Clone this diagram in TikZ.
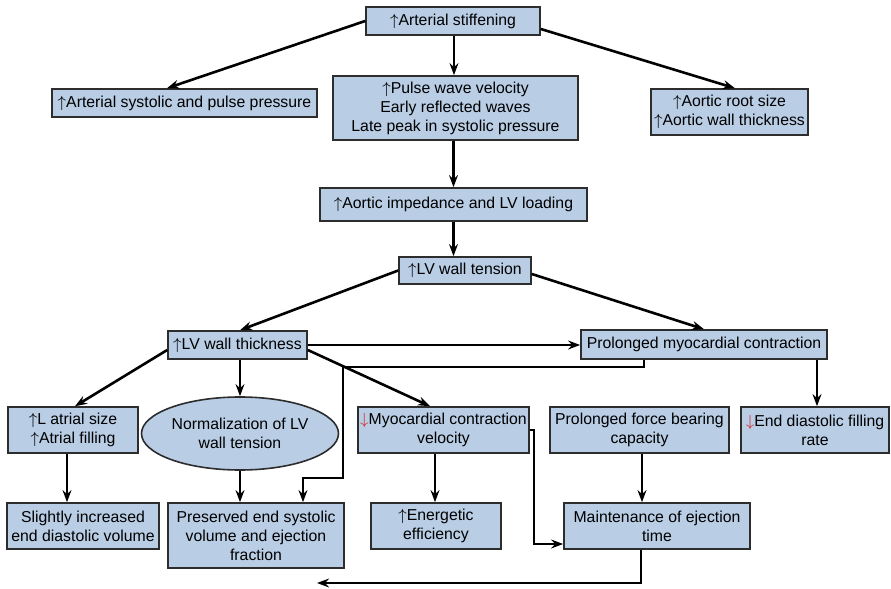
\documentclass[tikz,border=0pt]{standalone}
\usepackage{fontspec}
\setmainfont{Liberation Sans}
\usepackage{xcolor}
\usepackage{tikz}
\usetikzlibrary{arrows.meta, shapes.geometric}

\definecolor{boxblue}{RGB}{185,205,229}
\definecolor{boxline}{RGB}{45,45,45}
\definecolor{downred}{RGB}{215,45,45}

\tikzset{
  box/.style={draw=boxline, fill=boxblue, line width=0.8pt, inner sep=0pt,
    align=center, font=\fontsize{7.9}{9.5}\selectfont},
  oval/.style={box, ellipse},
  arr/.style={line width=1.3pt, -{Stealth[length=6pt,width=4.4pt]}}
}
\newcommand{\up}{\ensuremath{\uparrow}}
\newcommand{\dn}{{\color{downred}\ensuremath{\downarrow}}}

\begin{document}
\begin{tikzpicture}[x=0.5pt, y=-0.5pt]
                \useasboundingbox (0,0) rectangle (891,589);
                % Top row
                \node[box, minimum width=87pt, minimum height=14pt] (stiff) at (453,21) {\up Arterial stiffening};
                \node[box, minimum width=132.5pt, minimum height=14pt] (asp) at (184.5,103) {\up Arterial systolic and pulse pressure};
                \node[box, minimum width=122.5pt, minimum height=32pt] (pwv) at (455.5,108) {\up Pulse wave velocity\\Early reflected waves\\Late peak in systolic pressure};
                \node[box, minimum width=78.5pt, minimum height=23pt] (root) at (729.5,112) {\up Aortic root size\\\up Aortic wall thickness};
                % Middle chain
                \node[box, minimum width=133.5pt, minimum height=16.5pt] (imped) at (453.5,204.5) {\up Aortic impedance and LV loading};
                \node[box, minimum width=66pt, minimum height=13.5pt] (tens) at (465,270.5) {\up LV wall tension};
                \node[box, minimum width=69.5pt, minimum height=14pt] (thick) at (237.5,345) {\up LV wall thickness};
                \node[box, minimum width=123pt, minimum height=14.5pt] (contr) at (704,344.5) {Prolonged myocardial contraction};
                % Third row
                \node[box, minimum width=65pt, minimum height=23pt] (latr) at (73,430) {\up L atrial size\\\up Atrial filling};
                \node[oval, minimum width=98.5pt, minimum height=36.5pt] (norm) at (240,433.5) {Normalization of LV\\wall tension};
                \node[box, minimum width=85.5pt, minimum height=23pt] (velo) at (443.5,430) {\dn Myocardial contraction\\velocity};
                \node[box, minimum width=89.5pt, minimum height=23pt] (force) at (639.5,430) {Prolonged force bearing\\capacity};
                \node[box, minimum width=74pt, minimum height=23pt] (edfr) at (815,430) {\dn End diastolic filling\\rate};
                % Bottom row
                \node[box, minimum width=76pt, minimum height=23pt] (slight) at (83,526) {Slightly increased\\end diastolic volume};
                \node[box, minimum width=88pt, minimum height=32.5pt] (pres) at (256,535.5) {Preserved end systolic\\volume and ejection\\fraction};
                \node[box, minimum width=65pt, minimum height=23pt] (ener) at (436,526) {\up Energetic\\efficiency};
                \node[box, minimum width=93pt, minimum height=23pt] (maint) at (657,526) {Maintenance of ejection\\time};
                \coordinate (loose) at (317,583);
                % Arrows from the top
                \draw[arr] (stiff.west) -- ([xshift=-8.75pt]asp.north);
                \draw[arr] ([xshift=0.5pt]stiff.south) -- ([xshift=0.5pt]stiff.south |- pwv.north);
                \draw[arr] ([yshift=-4pt]stiff.east) -- ([xshift=2.75pt]root.north);
                \draw[arr] (imped.north |- pwv.south) -- (imped.north);
                \draw[arr] (imped.south) -- (imped.south |- tens.north);
                \draw[arr] (tens.west) -- ([xshift=1.25pt]thick.north);
                \draw[arr] ([yshift=-1.75pt]tens.east) -- (contr.north);
                % Arrows from LV wall thickness
                \draw[arr] (thick.east) -- (thick.east -| contr.west);
                \draw[arr] ([yshift=-2.5pt]thick.west) -- ([xshift=1pt]latr.north);
                \draw[arr] (norm.north |- thick.south) -- (norm.north);
                \draw[arr] ([yshift=-2.5pt]thick.east) -- ([xshift=-6.75pt]velo.north);
                % Arrows from prolonged contraction
                \draw[arr] ([xshift=-30pt]contr.south) -- ++(0,7) -| (343,478) -| ([xshift=23.5pt]pres.north);
                \draw[arr] ([xshift=56.5pt]contr.south) -- ([xshift=56.5pt]contr.south |- edfr.north);
                % Lower arrows
                \draw[arr] ([xshift=-3pt]latr.south) -- ([xshift=-3pt]latr.south |- slight.north);
                \draw[arr] (norm.south) -- (norm.south |- pres.north);
                \draw[arr] ([xshift=-4.25pt]velo.south) -- ([xshift=-4.25pt]velo.south |- ener.north);
                \draw[arr] (velo.east) -- ++(4,0) |- ([yshift=-9pt]maint.west);
                \draw[arr] ([xshift=1.25pt]force.south) -- ([xshift=1.25pt]force.south |- maint.north);
                \draw[arr] ([xshift=-8pt]maint.south) |- (loose);
\end{tikzpicture}
\end{document}
